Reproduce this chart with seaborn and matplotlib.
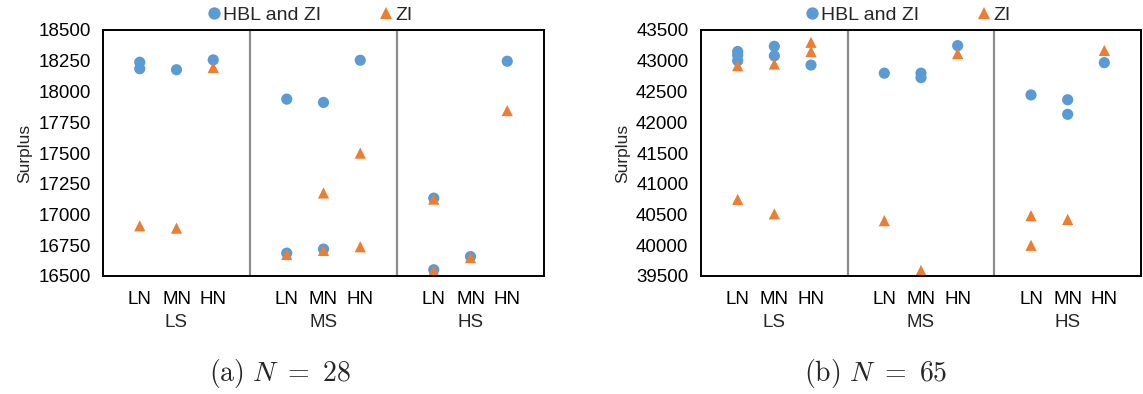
import numpy as np
import pandas as pd
import seaborn as sns
import matplotlib.pyplot as plt
from matplotlib import transforms

# categories
groups = ["LS", "MS", "HS"]
levels = ["LN", "MN", "HN"]
series_names = ["HBL and ZI", "ZI"]

# values per cell, order: LS-LN, LS-MN, LS-HN, MS-LN, ..., HS-HN
# (a) N = 28
a_hbl = [[18238, 18185], [18177], [18257],
         [17938, 16686], [17911, 16719], [18254],
         [17133, 16551], [16658], [18246]]
a_zi = [[16908], [16889], [18196],
        [16675], [17175, 16708], [17499, 16738],
        [17125, 16543], [16650], [17845]]
# (b) N = 65
b_hbl = [[43150, 43090, 43000], [43235, 43080], [42930],
         [42798], [42798, 42725], [43246],
         [42444], [42366, 42129], [42969]]
b_zi = [[42920, 40745], [42947, 40510], [43300, 43150],
        [40400], [39590], [43118],
        [40481, 39999], [40420], [43168]]

a_yticks = list(range(16500, 18501, 250))
b_yticks = list(range(39500, 43501, 500))

BLUE = "#5B9BD5"
ORANGE = "#ED7D31"


def build_frame(hbl, zi):
    rows = []
    for name, cells in zip(series_names, [hbl, zi]):
        for k, vals in enumerate(cells):
            g, i = divmod(k, 3)
            for v in vals:
                rows.append({"x": g * 4 + i + 1, "Surplus": v, "series": name})
    return pd.DataFrame(rows)


sns.set_theme(style="white")
plt.rcParams["font.family"] = ["Liberation Sans", "DejaVu Sans"]
plt.rcParams["mathtext.fontset"] = "cm"

fig = plt.figure(figsize=(11.43, 3.94), dpi=100)
ax_a = fig.add_axes([103 / 1143, 118 / 394, 441 / 1143, 246 / 394])
ax_b = fig.add_axes([701 / 1143, 118 / 394, 440 / 1143, 246 / 394])

panels = [
    (ax_a, build_frame(a_hbl, a_zi), a_yticks, 0.469, 280, r"$\mathrm{(a)}\ N\ =\ 28$"),
    (ax_b, build_frame(b_hbl, b_zi), b_yticks, 0.470, 876, r"$\mathrm{(b)}\ N\ =\ 65$"),
]

for ax, df, yticks, leg_x, cap_x, caption in panels:
    sns.scatterplot(
        data=df, x="x", y="Surplus", hue="series", style="series",
        hue_order=series_names, style_order=series_names,
        palette={"HBL and ZI": BLUE, "ZI": ORANGE},
        markers={"HBL and ZI": "o", "ZI": "^"},
        s=65, linewidth=0, ax=ax, clip_on=False,
    )
    ax.set_xlim(0, 12)
    ax.set_ylim(yticks[0], yticks[-1])
    ax.set_yticks(yticks)
    ax.set_xticks([g * 4 + i + 1 for g in range(3) for i in range(3)])
    ax.set_xticklabels(levels * 3)
    ax.set_xlabel("")
    ax.set_ylabel("Surplus", fontsize=12.5, labelpad=4)
    ax.tick_params(length=0, labelsize=13.5, colors="black")
    ax.tick_params(axis="x", pad=11)
    ax.tick_params(axis="y", pad=9)
    for sp in ax.spines.values():
        sp.set_color("black")
        sp.set_linewidth(1.4)
    for xv in (4, 8):
        ax.axvline(xv, color="#8c8c8c", lw=1.6, zorder=1)

    trans = transforms.blended_transform_factory(ax.transData, ax.transAxes)
    for g, name in enumerate(groups):
        ax.text(g * 4 + 2, -0.19, name, transform=trans, ha="center",
                va="center", fontsize=13.5)

    sns.move_legend(
        ax, "center", bbox_to_anchor=(leg_x, 1.06), ncol=2, frameon=False,
        title=None, fontsize=14, columnspacing=3.0, handlelength=0.7,
        handletextpad=0.1, markerscale=1.1,
    )

    fig.text(cap_x / 1143, 1 - 374 / 394, caption, ha="center", va="center",
             fontsize=20)

fig.savefig("out.png", dpi=100)
